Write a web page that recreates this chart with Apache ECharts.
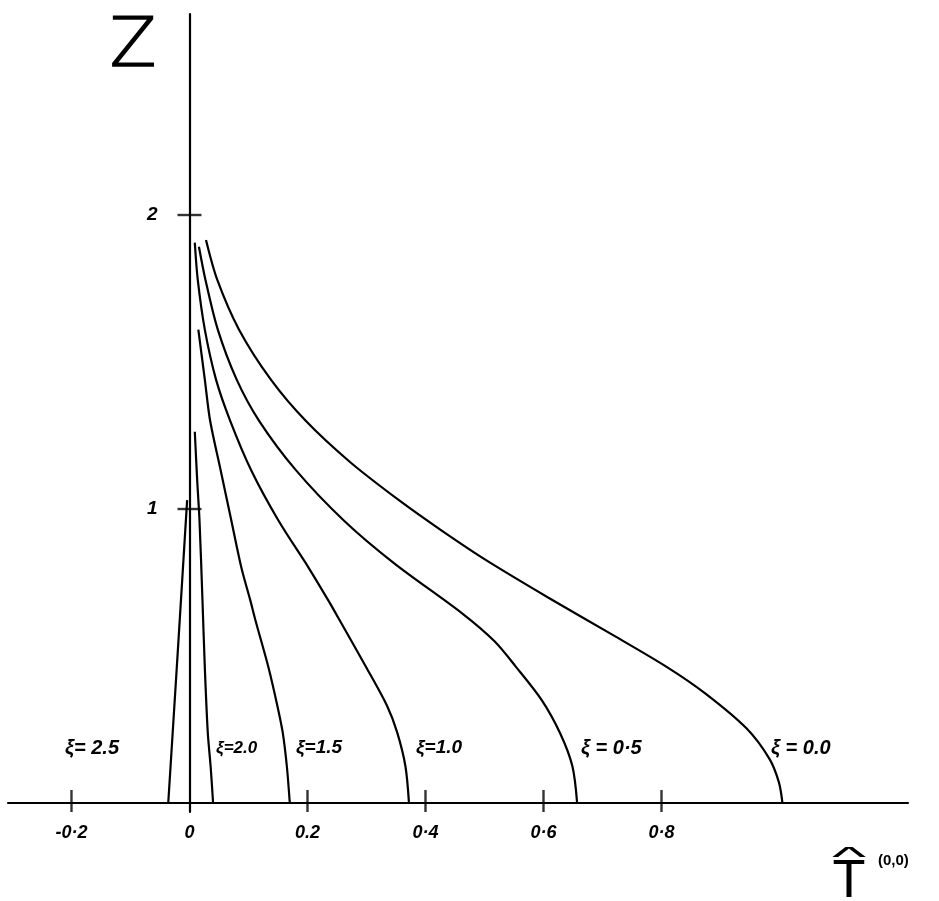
<!DOCTYPE html>
<html>
<head>
<meta charset="utf-8">
<title>T(0,0) against Z</title>
<script src="https://cdn.jsdelivr.net/npm/echarts@6/dist/echarts.min.js"></script>
<style>
  html, body { margin: 0; padding: 0; background: #fff; }
  #chart { width: 939px; height: 901px; }
</style>
</head>
<body>
<div id="chart"></div>
<script>
// Axis ticks and their printed labels
const xTicks = [-0.2, 0, 0.2, 0.4, 0.6, 0.8];
const xTickText = ['-0·2', '0', '0.2', '0·4', '0·6', '0·8'];
const yTicks = [1, 2];
const yTickText = ['1', '2'];

// Curves: [T, Z] pairs, one list per value of xi
const xiNames = ['ξ= 2.5', 'ξ=2.0', 'ξ=1.5', 'ξ=1.0', 'ξ = 0·5', 'ξ = 0.0'];
const xi25 = [[-0.004, 1.03], [-0.020, 0.51], [-0.036, 0]];
const xi20 = [[0.009, 1.263], [0.013, 1.10], [0.017, 0.96], [0.022, 0.69], [0.026, 0.46],
              [0.031, 0.24], [0.036, 0.12], [0.040, 0]];
const xi15 = [[0.015, 1.61], [0.026, 1.44], [0.035, 1.30], [0.053, 1.13], [0.071, 0.96],
              [0.088, 0.80], [0.103, 0.69], [0.112, 0.62], [0.134, 0.46], [0.149, 0.33],
              [0.158, 0.24], [0.165, 0.125], [0.170, 0]];
const xi10 = [[0.009, 1.906], [0.014, 1.78], [0.026, 1.61], [0.045, 1.44], [0.069, 1.30],
              [0.105, 1.13], [0.151, 0.96], [0.202, 0.80], [0.235, 0.69], [0.255, 0.62],
              [0.300, 0.46], [0.335, 0.33], [0.352, 0.24], [0.366, 0.125], [0.372, 0]];
const xi05 = [[0.016, 1.892], [0.027, 1.78], [0.048, 1.61], [0.080, 1.44], [0.118, 1.30],
              [0.180, 1.133], [0.262, 0.96], [0.347, 0.815], [0.462, 0.645], [0.517, 0.55],
              [0.553, 0.464], [0.597, 0.35], [0.628, 0.238], [0.649, 0.125], [0.657, 0]];
const xi00 = [[0.028, 1.915], [0.047, 1.78], [0.084, 1.61], [0.138, 1.44], [0.197, 1.30],
              [0.272, 1.16], [0.355, 1.03], [0.425, 0.93], [0.502, 0.827], [0.607, 0.70],
              [0.718, 0.571], [0.808, 0.464], [0.874, 0.373], [0.944, 0.254], [0.983, 0.15],
              [0.999, 0.07], [1.005, 0]];
const curves = [xi25, xi20, xi15, xi10, xi05, xi00];

const FONT = "'Liberation Sans', 'DejaVu Sans', sans-serif";
const tickLabelStyle = {
  color: '#000',
  opacity: 1,
  textBorderWidth: 0,
  fontFamily: FONT,
  fontStyle: 'italic',
  fontWeight: 700,
  fontSize: 18
};

const chart = echarts.init(document.getElementById('chart'), null, { renderer: 'canvas' });

const lineSeries = curves.map((pts, i) => ({
  type: 'line',
  name: xiNames[i],
  data: pts,
  smooth: 0.3,
  showSymbol: false,
  silent: true,
  clip: false,
  lineStyle: { color: '#000', width: 2.2 },
  z: 3
}));

// tick marks crossing the axes, with their labels
const tickSeries = [
  {
    type: 'scatter',
    data: xTicks.filter(v => v !== 0).map(v => [v, 0]),
    symbol: 'rect',
    symbolSize: [2.4, 22],
    symbolOffset: [0, -2],
    itemStyle: { color: '#000' },
    silent: true,
    clip: false,
    z: 4
  },
  {
    type: 'scatter',
    data: xTicks.map((v, i) => ({ value: [v, 0], name: xTickText[i] })),
    symbolSize: 1,
    itemStyle: { color: '#000', opacity: 0 },
    silent: true,
    clip: false,
    label: {
      show: true,
      position: 'bottom',
      distance: 21,
      formatter: p => p.name,
      ...tickLabelStyle
    },
    z: 4
  },
  {
    type: 'scatter',
    data: yTicks.map((v, i) => ({ value: [0, v], name: yTickText[i] })),
    symbol: 'rect',
    symbolSize: [24, 2.4],
    itemStyle: { color: '#000' },
    silent: true,
    clip: false,
    label: {
      show: true,
      position: 'left',
      distance: 20,
      formatter: p => p.name,
      ...tickLabelStyle,
      fontSize: 19
    },
    z: 4
  }
];

const labelTexts = [
  { x: 65, size: 20 },
  { x: 216, size: 17 },
  { x: 296, size: 19 },
  { x: 416, size: 19 },
  { x: 581, size: 20 },
  { x: 771, size: 20 }
].map((p, i) => ({
  type: 'text',
  x: p.x,
  y: 748,
  style: {
    text: xiNames[i],
    font: `italic bold ${p.size}px ${FONT}`,
    fill: '#000',
    align: 'left',
    verticalAlign: 'middle'
  },
  z: 10
}));

chart.setOption({
  animation: false,
  backgroundColor: '#fff',
  grid: { left: 8, right: 31, top: 14, bottom: 89, containLabel: false, outerBoundsMode: 'none' },
  xAxis: {
    type: 'value',
    min: -0.3076,
    max: 1.2178,
    axisLine: { onZero: true, lineStyle: { color: '#000', width: 2.2 } },
    axisTick: { show: false },
    splitLine: { show: false },
    axisLabel: { show: false }
  },
  yAxis: {
    type: 'value',
    min: -0.0306,
    max: 2.6837,
    axisLine: { onZero: true, lineStyle: { color: '#000', width: 2.2 } },
    axisTick: { show: false },
    splitLine: { show: false },
    axisLabel: { show: false }
  },
  series: lineSeries.concat(tickSeries),
  graphic: labelTexts.concat([
    {
      type: 'text',
      x: 133,
      y: 48,
      style: {
        text: 'Z',
        font: `200 68px 'DejaVu Sans ExtraLight', 'DejaVu Sans', sans-serif`,
        fill: '#000',
        stroke: '#000',
        lineWidth: 1.4,
        align: 'center',
        verticalAlign: 'middle'
      }
    },
    {
      type: 'text',
      x: 849,
      y: 882,
      style: {
        text: 'T',
        font: `54px ${FONT}`,
        fill: '#000',
        align: 'center',
        verticalAlign: 'middle'
      }
    },
    {
      type: 'text',
      x: 849,
      y: 858,
      scaleX: 2.6,
      style: {
        text: '^',
        font: `28px ${FONT}`,
        fill: '#000',
        align: 'center',
        verticalAlign: 'middle'
      }
    },
    {
      type: 'text',
      x: 878,
      y: 861,
      style: {
        text: '(0,0)',
        font: `bold 15px ${FONT}`,
        fill: '#000',
        align: 'left',
        verticalAlign: 'middle'
      }
    }
  ])
});
</script>
</body>
</html>
